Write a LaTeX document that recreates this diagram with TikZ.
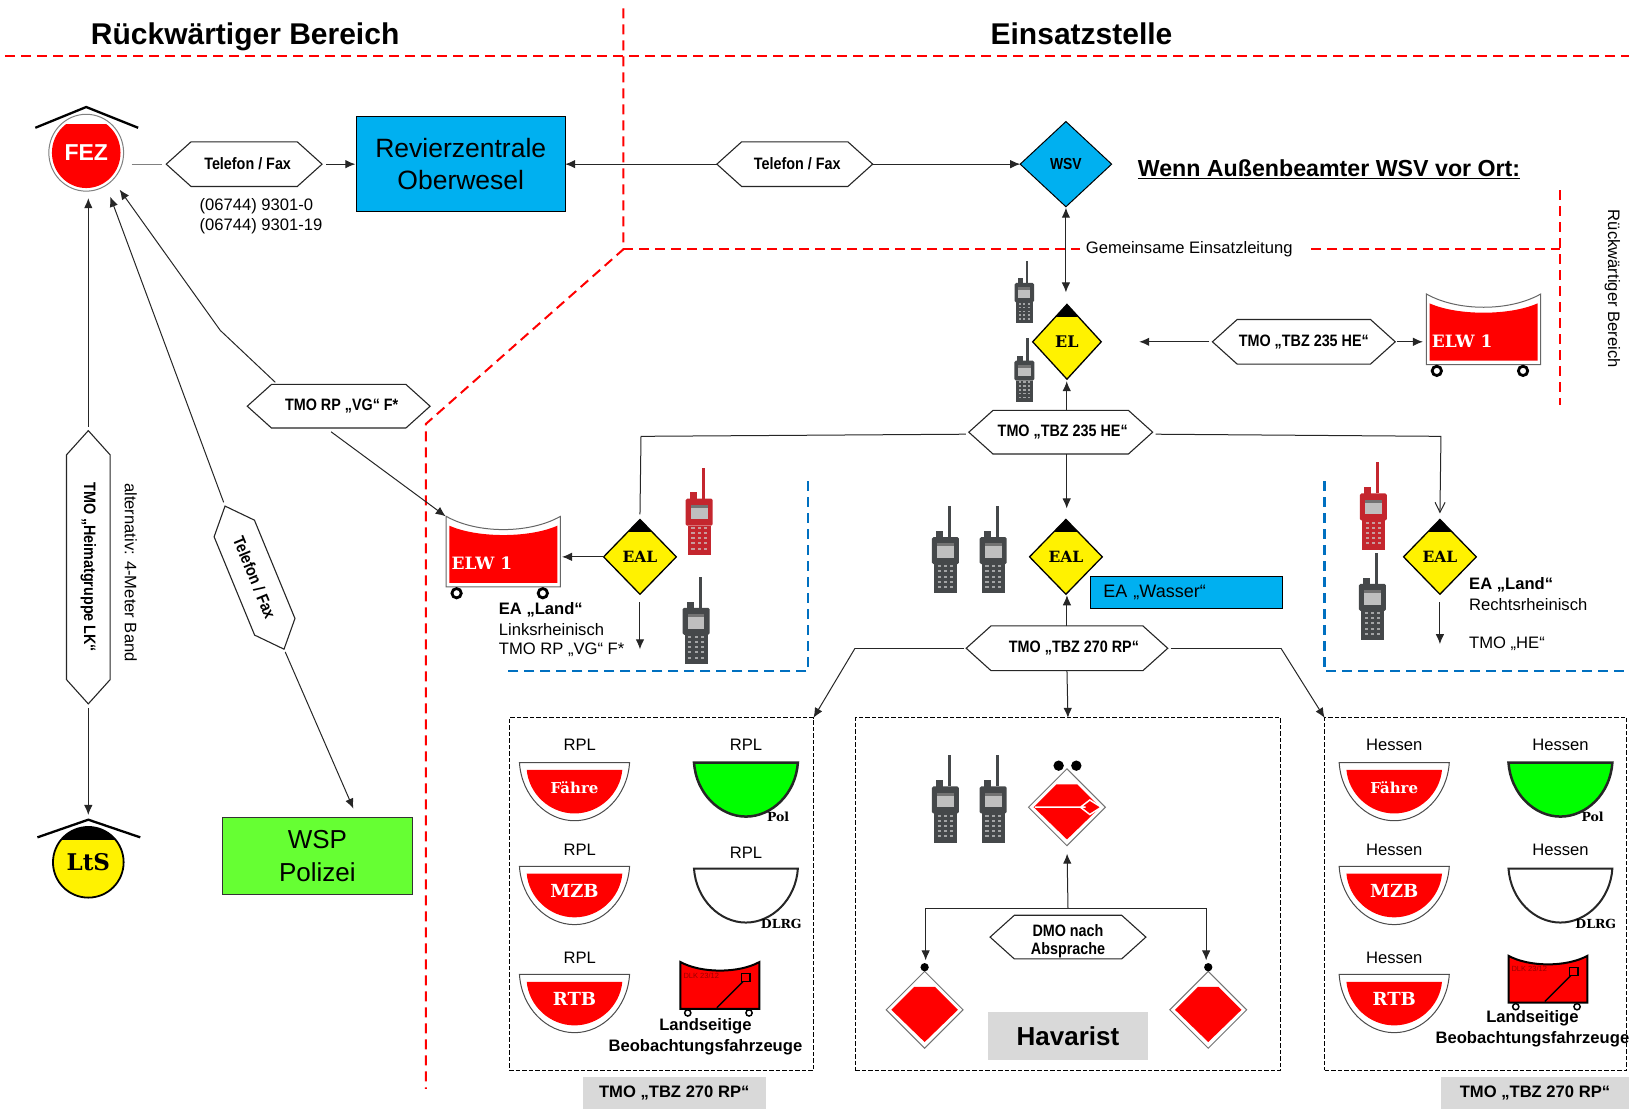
\documentclass[tikz,border=0pt]{standalone}
\usepackage{fontspec}
\usetikzlibrary{arrows.meta,shapes.geometric,shapes.misc,shapes.symbols}
\setmainfont{Liberation Sans}
\newfontfamily\slab{DejaVu Serif}
\newfontfamily\narrowf{Liberation Sans}[FakeStretch=0.87]
\definecolor{cyanbox}{HTML}{00B0F0}
\definecolor{greenbox}{HTML}{66FF33}
\definecolor{dashblue}{HTML}{0070C0}
\definecolor{greybox}{HTML}{D9D9D9}
\definecolor{radred}{HTML}{C4262E}
\definecolor{raddark}{HTML}{45484A}
\newcommand{\fsz}[1]{\fontsize{#1}{#1}\selectfont}
\tikzset{
  x=1.039pt,y=-1.039pt,
  >={Latex[length=10pt,width=8.5pt]},
  conn/.style={draw=black!85,line width=1pt},
  arr/.style={conn,->},
  reddash/.style={draw=red,line width=2pt,dash pattern=on 10pt off 6pt},
  bluedash/.style={draw=dashblue,line width=2.4pt,dash pattern=on 10pt off 6pt},
  blackdash/.style={draw=black,line width=1pt,dash pattern=on 4.5pt off 2pt},
  sz/.style 2 args={minimum width=#1*1.039pt,minimum height=#2*1.039pt,inner sep=0pt,outer sep=0pt},
  hexa/.style 2 args={signal,signal to=east and west,signal pointer angle=84,draw=black!85,line width=1.1pt,fill=white,inner sep=0pt,outer sep=0pt,
    minimum width=#1*1.039pt,minimum height=#2*1.039pt,
    font=\narrowf\bfseries\fsz{16.5},align=center},
  solidbox/.style={rectangle,draw=black,line width=1pt},
  lab/.style={font=\fsz{16.6},inner sep=0pt,anchor=center},
  leftlab/.style={font=\fsz{16.6},inner sep=0pt,anchor=west},
  leftbold/.style={font=\bfseries\fsz{16.6},inner sep=0pt,anchor=west},
  boldlab/.style={font=\bfseries\fsz{16.6},inner sep=0pt,anchor=center},
  greylab/.style={rectangle,fill=greybox,inner sep=0pt,font=\bfseries\fsz{16.6}},
  dashframe/.style={rectangle,blackdash},
  yelldia/.style 2 args={diamond,aspect=1,sz={#1}{#2},draw=black,line width=1.3pt,fill=yellow,
    font=\slab\bfseries\fsz{15.5},
    path picture={\fill[black] ([shift={(-60,-60)}]path picture bounding box.center) rectangle ([shift={(60,-#2*0.33)}]path picture bounding box.center);}},
  hullred/.style={path picture={\fill[red] ([shift={(-32,0)}]path picture bounding box.center)--([shift={(-10,-22)}]path picture bounding box.center)--([shift={(10,-22)}]path picture bounding box.center)--([shift={(32,0)}]path picture bounding box.center)--([shift={(0,31)}]path picture bounding box.center)--cycle;}},
  shipdia/.style={diamond,aspect=1,sz={74}{74},draw=black!55,line width=1pt,fill=white,hullred},
  pics/hull/.style n args={2}{code={
    \draw[black!85,line width=#2,fill=#1] (-50,0) .. controls (-48,30) and (-25,52) .. (0,52) .. controls (25,52) and (48,30) .. (50,0) -- cycle;
  }},
  pics/boatt/.style n args={2}{code={
    \draw[black!70,line width=1pt,fill=white] (-53,0) .. controls (-51,32) and (-27,56) .. (0,56) .. controls (27,56) and (51,32) .. (53,0) -- cycle;
    \fill[red] (-46,7) .. controls (-44,30) and (-24,49) .. (0,49) .. controls (24,49) and (44,30) .. (46,7) -- cycle;
    \node[inner sep=0pt,text=white,font=\slab\bfseries\fsz{#2}] (-t) at (0,24) {#1};
  }},
  pics/elw/.style={code={
    \node[rectangle,sz={111}{68}] (-b) at (0,0) {};
    \draw[black!60,line width=1pt,fill=white] (-55,-34) .. controls (-25,-17) and (25,-17) .. (55,-34) -- (55,34) -- (-55,34) -- cycle;
    \fill[red] (-52,-25) .. controls (-25,-13) and (25,-13) .. (52,-25) -- (52,30) -- (-52,30) -- cycle;
    \node[inner sep=0pt,text=white,font=\slab\bfseries\fsz{17},anchor=west] (-t) at (-50,11) {ELW 1};
    \draw[black,line width=2.8pt,fill=white] (-45,40) circle[radius=4.5];
    \draw[black,line width=2.8pt,fill=white] (38,40) circle[radius=4.5];
  }},
  pics/minitruck/.style={code={
    \draw[black,line width=2pt,fill=red] (-38,-24) .. controls (-18,-13) and (18,-13) .. (38,-24) -- (38,21) -- (-38,21) -- cycle;
    \draw[black,line width=1.5pt,fill=white] (-31,25) circle[radius=3];
    \draw[black,line width=1.5pt,fill=white] (28,25) circle[radius=3];
    \node[inner sep=0pt,text=red!60!black,font=\fsz{7.5}] (-t) at (-18,-11) {DLK 23/12};
    \draw[black,line width=1.3pt] (21,-13) rectangle (29,-5);
    \draw[black,line width=1.5pt] (22,-5) -- (-3,20);
  }},
  pics/radio/.style={code={
    \fill[#1] (2.5,-42) rectangle (5.5,-12);
    \fill[#1] (-9,-18) rectangle (-2,-10);
    \fill[#1,rounded corners=1.5pt] (-13,-12) rectangle (13,14);
    \fill[#1] (-11,14) rectangle (11,42);
    \fill[black!25] (-8,-6) rectangle (8,8);
    \fill[black!55] (-8,-6) rectangle (8,-3);
    \foreach \cx in {-6,0,6}{\foreach \cy in {16,21,26,31,36}{\fill[black!20,opacity=.7] (\cx-1.5,\cy-1) rectangle (\cx+1.5,\cy+1);}}
  }},
}
\begin{document}
\begin{tikzpicture}
\useasboundingbox (0,0) rectangle (1568,1067);

% titles
\node[inner sep=0pt,font=\bfseries\fsz{30},anchor=base] (titleA) at (236,43) {Rückwärtiger Bereich};
\node[inner sep=0pt,font=\bfseries\fsz{30},anchor=base] (titleB) at (1041,43) {Einsatzstelle};

% region lines
\draw[reddash] (5,54) -- (1568,54);
\draw[reddash] (600,8) -- (600,240) -- (410,408) -- (410,1048);
\draw[reddash] (600,240) -- (1040,240);
\draw[reddash] (1262,240) -- (1502,240);
\draw[reddash] (1502,183) -- (1502,390);
\draw[bluedash] (778,463) -- (778,646) -- (485,646);
\draw[bluedash] (1275,463) -- (1275,646) -- (1568,646);

% frames
\node[dashframe,sz={293}{339}] (frameL) at (636.5,860.5) {};
\node[dashframe,sz={410}{339}] (frameC) at (1028,860.5) {};
\node[dashframe,sz={291}{339}] (frameR) at (1420.5,860.5) {};

% FEZ and LtS
\node[ellipse,sz={72}{74},draw=black!50,line width=1pt,fill=white,text=white,font=\bfseries\fsz{23},
  path picture={\begin{scope}\clip ([shift={(-40,-27)}]path picture bounding box.center) rectangle ([shift={(40,40)}]path picture bounding box.center);
  \fill[red] (path picture bounding box.center) ellipse[x radius=33,y radius=34];\end{scope}}] (fez) at (83,147) {FEZ};
\draw[black,line width=2.3pt] (34,123) -- (83,103) -- (133,123);
\node[circle,sz={68}{68},draw=black,line width=1.8pt,fill=yellow,font=\slab\bfseries\fsz{23},
  path picture={\fill[black] ([shift={(-40,-40)}]path picture bounding box.center) rectangle ([shift={(40,-21)}]path picture bounding box.center);}] (lts) at (85,830) {LtS};
\draw[black,line width=2.3pt] (36,806) -- (85,789) -- (135,806);

% boxes
\node[solidbox,sz={201}{92},fill=cyanbox,font=\fsz{26.5},align=center] (rev) at (443.5,158) {Revierzentrale\\[5pt]Oberwesel};
\node[solidbox,sz={183}{74},fill=greenbox,font=\fsz{26},align=center,draw=black!80] (wsp) at (305.5,824) {WSP\\[7pt]Polizei};
\node[solidbox,sz={184}{31},fill=cyanbox,font=\fsz{18},text width=166pt,align=left] (wasser) at (1142,570.5) {\raisebox{-2pt}{EA „Wasser“}};
\node[diamond,aspect=1,sz={88}{82},draw=black,line width=1pt,fill=cyanbox,font=\narrowf\bfseries\fsz{16}] (wsv) at (1026,158) {WSV};

% hexagons
\node[hexa={150}{43}] (hexfaxa) at (235,158) {\hspace{7pt}Telefon / Fax};
\node[hexa={150}{43}] (hexfaxb) at (765,158) {\hspace{5pt}Telefon / Fax};
\node[hexa={176}{43}] (hexhe) at (1255,329) {\raisebox{-2pt}{TMO „TBZ 235 HE“}};
\node[hexa={177}{42}] (hexhem) at (1021,416) {\raisebox{-2pt}{\hspace{4pt}TMO „TBZ 235 HE“}};
\node[hexa={176}{42}] (hexvg) at (326,391) {\hspace{6pt}TMO RP „VG“ F*};
\node[hexa={194}{43}] (hexrp) at (1027,624) {\raisebox{-2pt}{\hspace{14pt}TMO „TBZ 270 RP“}};
\node[hexa={150}{42}] (hexdmo) at (1028,902) {\rule{0pt}{20pt}DMO nach\\[2pt]Absprache};
\node[hexa={263}{42},rotate=-90] (hexheim) at (85,546) {TMO „Heimatgruppe LK“};
\node[hexa={149}{42},rotate=-67.6] (hexfaxc) at (245,556) {Telefon / Fax};

% diamonds
\node[yelldia={66}{72},font=\slab\bfseries\fsz{16}] (el) at (1027,329) {EL};
\node[yelldia={70}{72}] (ealL) at (616,536) {EAL};
\node[yelldia={70}{72}] (ealC) at (1026,536) {EAL};
\node[yelldia={70}{72}] (ealR) at (1386,536) {EAL};

% ELW
\pic (elwR) at (1428,317) {elw};
\pic (elwL) at (484.5,531) {elw};

% radios
\pic[scale=0.72] at (986,281) {radio=raddark};
\pic[scale=0.74] at (986,356) {radio=raddark};
\pic at (673,492) {radio=radred};
\pic at (670,597) {radio=raddark};
\pic at (910,529) {radio=raddark};
\pic at (956,529) {radio=raddark};
\pic at (1322,487) {radio=radred};
\pic at (1321,574) {radio=raddark};
\pic at (910,769) {radio=raddark};
\pic at (956,769) {radio=raddark};

% ship diamonds
\node[shipdia] (shipC) at (1027,777) {};
\draw[white,line width=1.5pt] (996,777) -- (1045,777) (1060,777) -- (1049,770) -- (1040,777) -- (1049,784) -- cycle;
\fill[black] (1019,737) circle[radius=5] (1036,737) circle[radius=5];
\node[shipdia] (shipL) at (890,972) {};
\fill[black] (890,931) circle[radius=4];
\node[shipdia] (shipR) at (1163,972) {};
\fill[black] (1163,931) circle[radius=4];
\node[greylab,sz={154}{46},font=\bfseries\fsz{26}] (hav) at (1028,997) {Havarist};

% boats left
\pic (b1) at (553,734) {boatt={Fähre}{15}};
\pic (b2) at (553,834) {boatt={MZB}{18}};
\pic (b3) at (553,938) {boatt={RTB}{18}};
\pic at (718,734) {hull={green}{2.5pt}};
\pic at (718,836) {hull={white}{2pt}};
\pic (b4) at (1342,734) {boatt={Fähre}{15}};
\pic (b5) at (1342,834) {boatt={MZB}{18}};
\pic (b6) at (1342,938) {boatt={RTB}{18}};
\pic at (1502,734) {hull={green}{2.5pt}};
\pic at (1502,836) {hull={white}{2pt}};
\pic (t1) at (693,950) {minitruck};
\pic (t2) at (1490,944) {minitruck};

% small labels
\node[inner sep=0pt,font=\slab\bfseries\fsz{12.5}] (polA) at (749,786) {Pol};
\node[inner sep=0pt,font=\slab\bfseries\fsz{12.5}] (dlrgA) at (752,889) {DLRG};
\node[inner sep=0pt,font=\slab\bfseries\fsz{12.5}] (polB) at (1533,786) {Pol};
\node[inner sep=0pt,font=\slab\bfseries\fsz{12.5}] (dlrgB) at (1536,889) {DLRG};
\node[lab] (r1) at (558,717) {RPL};
\node[lab] (r2) at (718,717) {RPL};
\node[lab] (r3) at (558,818) {RPL};
\node[lab] (r4) at (718,821) {RPL};
\node[lab] (r5) at (558,922) {RPL};
\node[lab] (h1) at (1342,717) {Hessen};
\node[lab] (h2) at (1502,717) {Hessen};
\node[lab] (h3) at (1342,818) {Hessen};
\node[lab] (h4) at (1502,818) {Hessen};
\node[lab] (h5) at (1342,922) {Hessen};
\node[boldlab] (la) at (679,988) {Landseitige};
\node[boldlab] (lb) at (679,1008) {Beobachtungsfahrzeuge};
\node[boldlab] (lc) at (1475,980) {Landseitige};
\node[boldlab] (ld) at (1475,1000) {Beobachtungsfahrzeuge};
\node[greylab,sz={176}{31}] (gl) at (649,1052) {\raisebox{-4pt}{TMO „TBZ 270 RP“}};
\node[greylab,sz={181}{31}] (gr) at (1477.5,1052) {\raisebox{-4pt}{TMO „TBZ 270 RP“}};

\node[leftlab] (tel1) at (192,198.5) {(06744) 9301-0};
\node[leftlab] (tel2) at (192,217.5) {(06744) 9301-19};
\node[inner sep=0pt,font=\bfseries\fsz{23.2},anchor=west] (wenn) at (1095,162.5) {\underline{Wenn Außenbeamter WSV vor Ort:}};
\node[leftlab] (gem) at (1045,240) {Gemeinsame Einsatzleitung};
\node[lab,rotate=-90] (rb) at (1552,278) {Rückwärtiger Bereich};
\node[lab,rotate=-90] (alt) at (126,551) {alternativ: 4-Meter Band};
\node[leftbold] (landL) at (480,587) {EA „Land“};
\node[leftlab] (linksL) at (480,606) {Linksrheinisch};
\node[leftlab] (vgL) at (480,625) {TMO RP „VG“ F*};
\node[leftbold] (landR) at (1414,563) {EA „Land“};
\node[leftlab] (rechts) at (1414,582) {Rechtsrheinisch};
\node[leftlab] (tmohe) at (1414,620) {TMO „HE“};

% bend coordinates
\coordinate (bVG) at (212,318);
\coordinate (bHL) at (617,420);
\coordinate (bHR) at (1387,420);
\coordinate (bRL) at (823,624);
\coordinate (bRR) at (1233,624);
\coordinate (bDL) at (891,874);
\coordinate (bDR) at (1161,874);
\coordinate (bDC) at (1028,874);

% connectors
\draw[conn,draw=black!50,shorten <=8pt,shorten >=4pt] (fez.east |- hexfaxa.west) -- (hexfaxa.west);
\draw[arr,shorten <=4pt,shorten >=1pt] (hexfaxa.east) -- (rev.west |- hexfaxa.east);
\draw[arr,shorten >=0pt] (hexfaxb.west) -- (rev.east |- hexfaxb.west);
\draw[arr] (hexfaxb.east) -- (wsv.west);
\draw[arr,<->,shorten <=1pt,shorten >=12pt] (wsv.south) -- (wsv.south |- el.north);
\draw[arr,shorten <=3pt,shorten >=38pt] (hexhe.west) -- (el.east);
\draw[arr,shorten <=2pt,shorten >=3pt] (hexhe.east) -- (elwR-b.west |- hexhe.east);
\draw[arr,shorten >=1pt] ([xshift=6pt]hexhem.north) -- ([xshift=6pt,yshift=-1pt]hexhem.north |- el.south);
\draw[conn,shorten <=3pt] ([yshift=-2pt]hexhem.west) -- (bHL) -- ([yshift=5pt]ealL.north);
\draw[conn,->,>={Straight Barb[length=10pt,width=10pt]},shorten <=3pt] ([yshift=-2pt]hexhem.east) -- (bHR) -- ([yshift=6pt]ealR.north);
\draw[arr] ([xshift=6pt]hexhem.south) -- ([xshift=6pt,yshift=11pt]hexhem.south |- ealC.north);
\draw[arr,shorten >=1pt] (ealL.west) -- (elwL-b.east |- ealL.west);
\draw[arr,shorten <=8pt] (ealL.south) -- (ealL.south |- vgL.east);
\draw[arr,shorten <=8pt] (ealR.south) -- (ealR.south |- tmohe.east);
\draw[arr,shorten >=1pt] (hexrp.north) -- (hexrp.north |- ealC.south);
\draw[conn,shorten <=2pt] (hexrp.west) -- (bRL);
\draw[arr] (bRL) -- (frameL.north east);
\draw[conn,shorten <=3pt] (hexrp.east) -- (bRR);
\draw[arr] (bRR) -- (frameR.north west);
\draw[arr] (hexrp.south) -- ([xshift=1pt]hexrp.south |- frameC.north);
\draw[conn] (bDL) -- (bDR);
\draw[arr,shorten >=8pt] (bDC) -- (shipC.south);
\draw[arr,shorten >=11pt] (bDL) -- (bDL |- shipL.north);
\draw[arr,shorten >=11pt] (bDR) -- (bDR |- shipR.north);
\draw[conn] ([shift={(-61,-2)}]hexvg.north) -- (bVG);
\draw[arr,shorten >=12pt] (bVG) -- (fez.south east);
\draw[arr,shorten <=3pt] ([xshift=-10pt,yshift=-2pt]hexvg.south) -- (elwL-b.north west);
\draw[arr,shorten <=4pt,shorten >=6pt] (hexfaxc.west) -- ([xshift=22pt]fez.south);
\draw[arr,shorten <=3pt] (hexfaxc.east) -- ([xshift=36pt,yshift=9pt]wsp.north);
\draw[arr,shorten <=4pt,shorten >=7pt] (hexheim.west) -- (hexheim.west |- fez.south);
\draw[arr,shorten <=4pt,shorten >=12pt] (hexheim.east) -- (lts.north);
\end{tikzpicture}
\end{document}
